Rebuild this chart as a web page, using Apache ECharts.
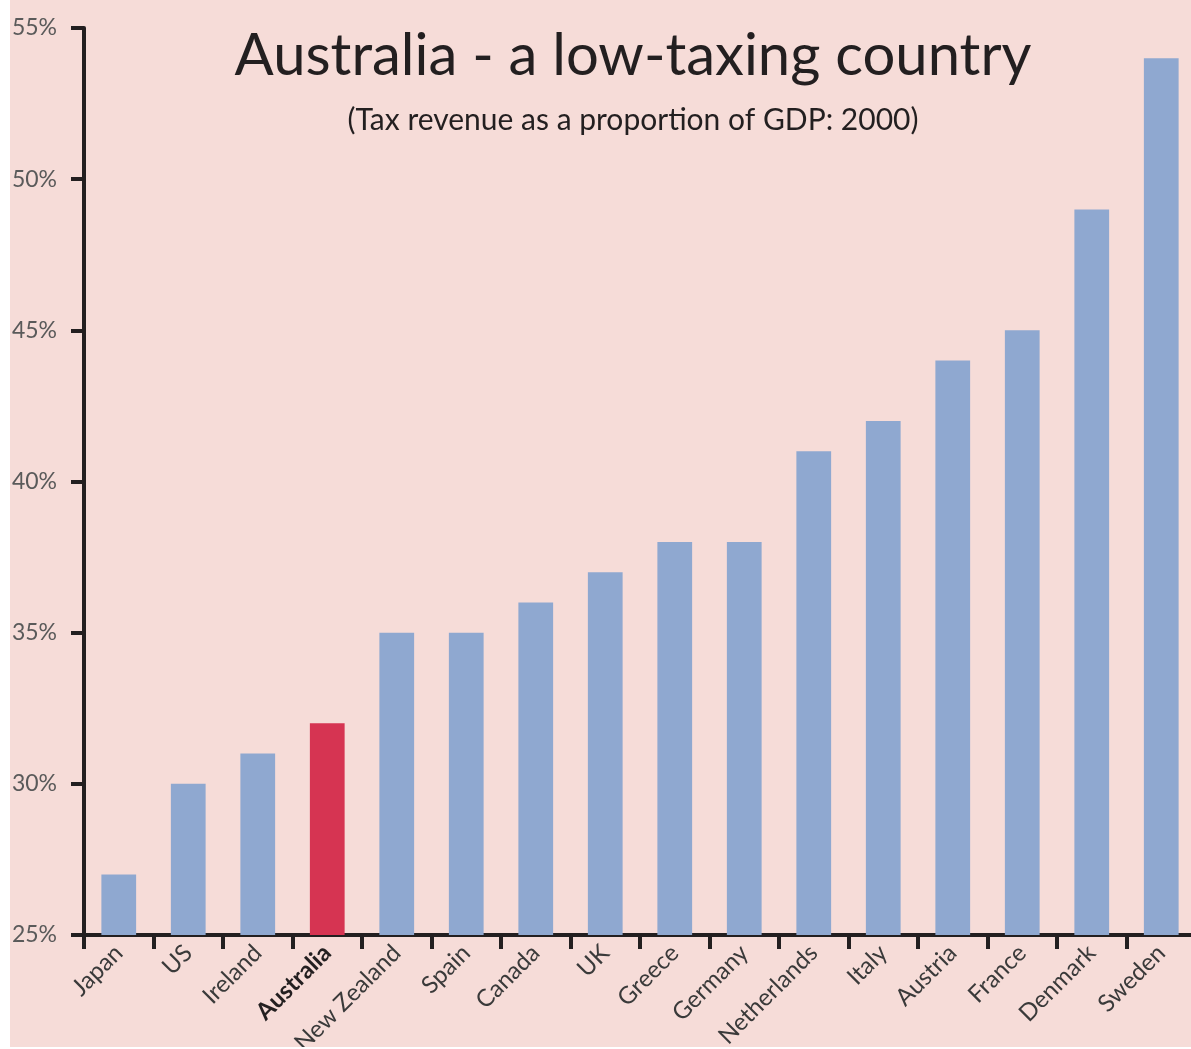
<!DOCTYPE html>
<html><head><meta charset="utf-8">
<script src="https://cdn.jsdelivr.net/npm/echarts@6/dist/echarts.min.js"></script>
<style>
html,body{margin:0;padding:0;background:#fff;overflow:hidden;width:1191px;height:1049px;}
#c{position:absolute;left:10px;top:0;width:1186px;height:1047px;background:#f6dcd8;}
</style></head><body>
<div id="c"></div>
<script>
const categories = ['Japan','US','Ireland','Australia','New Zealand','Spain','Canada','UK','Greece','Germany','Netherlands','Italy','Austria','France','Denmark','Sweden'];
const values = [27,30,31,32,35,35,36,37,38,38,41,42,44,45,49,54];
const highlight = 'Australia';
const titleText = 'Australia - a low-taxing country';
const subtitleText = '(Tax revenue as a proportion of GDP: 2000)';

const FONT = 'Lato';
const chart = echarts.init(document.getElementById('c'), null, {renderer:'canvas'});
chart.setOption({
  backgroundColor: 'transparent',
  animation: false,
  title: {
    text: titleText,
    subtext: subtitleText,
    left: 618, textAlign: 'center', top: 22,
    itemGap: 20,
    textStyle: {fontFamily: FONT, fontSize: 58, fontWeight: 'normal', color: '#231f20'},
    subtextStyle: {fontFamily: FONT, fontSize: 30, color: '#231f20'}
  },
  grid: {left: 74, right: 0, top: 28, bottom: 112, containLabel: false, outerBoundsMode: 'none'},
  xAxis: {
    type: 'category',
    data: categories,
    axisLine: {lineStyle: {color: '#231f20', width: 4}},
    axisTick: {show: true, length: 14, lineStyle: {color: '#231f20', width: 4}},
    axisLabel: {
      rotate: 45, margin: 14, interval: 0,
      formatter: v => v === highlight ? '{b|' + v + '}' : '{a|' + v + '}',
      rich: {
        a: {fontFamily: FONT, fontSize: 24, color: '#3a3a3a'},
        b: {fontFamily: FONT, fontSize: 24, color: '#231f20', fontWeight: 'bold'}
      }
    }
  },
  yAxis: {
    type: 'value', min: 25, max: 55, interval: 5,
    splitLine: {show: false},
    axisLine: {show: true, lineStyle: {color: '#231f20', width: 4}},
    axisTick: {show: true, length: 13, lineStyle: {color: '#231f20', width: 4}},
    axisLabel: {formatter: '{value}%', fontFamily: FONT, fontSize: 23, color: '#5a5a5a', margin: 27}
  },
  series: [{
    type: 'bar',
    data: values.map((v, i) => ({value: v, itemStyle: {color: categories[i] === highlight ? '#d63452' : '#8fa8d0'}})),
    barWidth: '50%'
  }]
});
</script>
</body></html>
